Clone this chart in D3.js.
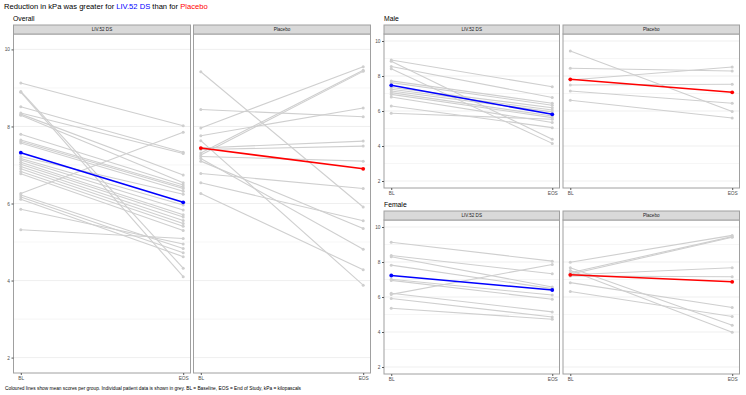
<!DOCTYPE html>
<html><head><meta charset="utf-8">
<script src="https://cdn.jsdelivr.net/npm/d3@7"></script>
<style>
html,body{margin:0;padding:0;background:#fff;}
svg{display:block;font-family:"Liberation Sans",Arial,sans-serif;}
</style></head>
<body><svg id="c" width="746" height="395"></svg>
<script>
// ---------- DATA ----------
const timepoints = ["BL", "EOS"];
const groups = ["LIV.52 DS", "Placebo"];
const yMajorTicks = [2, 4, 6, 8, 10];
const yMinorTicks = [3, 5, 7, 9];

// Overall, LIV.52 DS (individual patients: baseline / end of study)
const overallLivBL  = [9.13, 8.91, 8.89, 8.51, 8.35, 8.32, 8.29, 7.80, 7.65, 7.61, 7.57, 7.22, 7.17, 7.13, 7.07, 7.02, 6.96, 6.90, 6.83, 6.77, 6.26, 6.22, 6.17, 6.11, 5.85, 5.32];
const overallLivEOS = [8.02, 4.32, 4.10, 7.33, 7.30, 6.74, 6.54, 6.48, 6.43, 6.39, 6.32, 6.24, 5.96, 5.83, 5.71, 5.65, 5.56, 5.48, 5.41, 5.30, 7.85, 4.83, 4.72, 4.62, 4.95, 5.09];
const overallLivMean = [7.32, 6.03];
// Overall, Placebo
const overallPlaBL  = [9.42, 8.44, 7.96, 7.76, 7.63, 7.44, 7.40, 7.31, 7.26, 7.22, 7.17, 7.10, 6.78, 6.54, 6.26];
const overallPlaEOS = [5.91, 8.25, 9.55, 8.48, 3.88, 7.62, 7.49, 9.46, 9.43, 7.10, 4.81, 5.35, 6.39, 5.55, 4.28];
const overallPlaMean = [7.44, 6.90];

// Male
const maleLivBL  = [8.91, 8.84, 8.54, 8.42, 7.72, 7.62, 7.34, 7.24, 7.14, 7.05, 6.95, 6.80, 6.29, 5.87];
const maleLivEOS = [7.39, 4.38, 6.77, 4.15, 6.44, 6.33, 6.19, 6.06, 5.95, 5.71, 5.62, 5.34, 5.05, 5.53];
const maleLivMean = [7.47, 5.81];
const malePlaBL  = [9.43, 8.44, 7.77, 7.49, 7.14, 6.61];
const malePlaEOS = [5.97, 8.29, 8.51, 7.53, 6.44, 5.60];
const malePlaMean = [7.81, 7.07];

// Female
const femaleLivBL  = [9.13, 8.37, 8.30, 7.82, 7.01, 6.95, 6.15, 6.21, 5.91, 5.36];
const femaleLivEOS = [8.05, 7.33, 6.57, 6.48, 6.11, 5.87, 7.86, 5.15, 4.86, 4.73];
const femaleLivMean = [7.23, 6.40];
const femalePlaBL  = [7.99, 7.39, 7.30, 7.27, 7.20, 7.67, 7.52, 6.82, 6.31];
const femalePlaEOS = [9.52, 9.45, 9.41, 7.67, 7.16, 4.39, 3.98, 5.40, 4.89];
const femalePlaMean = [7.27, 6.87];

// ---------- DRAWING ----------
const svg = d3.select("#c");
const groupColors = {"LIV.52 DS": "#0000ff", "Placebo": "#ff0000"};
const yDomain = [1.6, 10.4];

function pairs(bl, eos) { return bl.map((b, i) => [b, eos[i]]); }

function drawPanel(cfg) {
  const {x0, x1, stripTop, bodyTop, bodyBottom, label, bl, eos, mean, showY} = cfg;
  const g = svg.append("g");
  const x = d3.scalePoint().domain(timepoints).range([x0, x1]).padding(0.045);
  const y = d3.scaleLinear().domain(yDomain).range([bodyBottom, bodyTop]);

  // grid
  g.selectAll(".minor").data(yMinorTicks).join("line")
    .attr("x1", x0).attr("x2", x1).attr("y1", d => y(d)).attr("y2", d => y(d))
    .attr("stroke", "#f0f0f0").attr("stroke-width", 0.6);
  g.selectAll(".major").data(yMajorTicks).join("line")
    .attr("x1", x0).attr("x2", x1).attr("y1", d => y(d)).attr("y2", d => y(d))
    .attr("stroke", "#ebebeb").attr("stroke-width", 0.8);

  // individual lines
  const line = d3.line().x((d, i) => x(timepoints[i])).y(d => y(d));
  const pp = pairs(bl, eos);
  g.selectAll(".ind").data(pp).join("path")
    .attr("d", d => line(d)).attr("fill", "none")
    .attr("stroke", "#cfcfcf").attr("stroke-width", 1.1);
  pp.forEach(p => {
    g.selectAll(null).data(p).join("circle")
      .attr("cx", (d, i) => x(timepoints[i])).attr("cy", d => y(d))
      .attr("r", 1.5).attr("fill", "#cfcfcf");
  });
  // mean
  const col = groupColors[label];
  g.append("path").attr("d", line(mean)).attr("fill", "none")
    .attr("stroke", col).attr("stroke-width", 1.6);
  g.selectAll(".mp").data(mean).join("circle")
    .attr("cx", (d, i) => x(timepoints[i])).attr("cy", d => y(d))
    .attr("r", 1.9).attr("fill", col);

  // border
  g.append("rect").attr("x", x0).attr("y", bodyTop).attr("width", x1 - x0).attr("height", bodyBottom - bodyTop)
    .attr("fill", "none").attr("stroke", "#a0a0a0").attr("stroke-width", 1);
  // strip
  g.append("rect").attr("x", x0).attr("y", stripTop).attr("width", x1 - x0).attr("height", bodyTop - stripTop)
    .attr("fill", "#d9d9d9").attr("stroke", "#a0a0a0").attr("stroke-width", 1);
  g.append("text").attr("x", (x0 + x1) / 2).attr("y", (stripTop + bodyTop) / 2 + 1.6)
    .attr("text-anchor", "middle").attr("font-size", 4.6).attr("fill", "#1a1a1a").text(label);

  // x axis
  const xa = g.append("g").attr("transform", `translate(0,${bodyBottom})`)
    .call(d3.axisBottom(x).tickSize(2).tickPadding(2));
  xa.select(".domain").remove();
  xa.selectAll("line").attr("stroke", "#555");
  xa.selectAll("text").attr("font-size", 4.8).attr("fill", "#4d4d4d").attr("font-family", "Liberation Sans, Arial, sans-serif");

  if (showY) {
    const ya = g.append("g").attr("transform", `translate(${x0},0)`)
      .call(d3.axisLeft(y).tickValues(yMajorTicks).tickSize(2).tickPadding(1.5));
    ya.select(".domain").remove();
    ya.selectAll("line").attr("stroke", "#555");
    ya.selectAll("text").attr("font-size", 4.8).attr("fill", "#4d4d4d").attr("font-family", "Liberation Sans, Arial, sans-serif");
  }
}

// title
const t = svg.append("text").attr("x", 4).attr("y", 9).attr("font-size", 7.6).attr("fill", "#000");
t.append("tspan").text("Reduction in kPa was greater for ");
t.append("tspan").attr("fill", "#0000ff").text("LIV.52 DS");
t.append("tspan").text(" than for ");
t.append("tspan").attr("fill", "#ff0000").text("Placebo");

// block titles
svg.append("text").attr("x", 13).attr("y", 21).attr("font-size", 6.8).text("Overall");
svg.append("text").attr("x", 384).attr("y", 21).attr("font-size", 6.8).text("Male");
svg.append("text").attr("x", 384).attr("y", 207).attr("font-size", 6.8).text("Female");

// Overall
drawPanel({x0: 13.5, x1: 190.5, stripTop: 25, bodyTop: 34, bodyBottom: 373, label: groups[0], bl: overallLivBL, eos: overallLivEOS, mean: overallLivMean, showY: true});
drawPanel({x0: 193.5, x1: 370.5, stripTop: 25, bodyTop: 34, bodyBottom: 373, label: groups[1], bl: overallPlaBL, eos: overallPlaEOS, mean: overallPlaMean, showY: false});
// Male
drawPanel({x0: 384, x1: 559.5, stripTop: 25, bodyTop: 34, bodyBottom: 188, label: groups[0], bl: maleLivBL, eos: maleLivEOS, mean: maleLivMean, showY: true});
drawPanel({x0: 563, x1: 739.5, stripTop: 25, bodyTop: 34, bodyBottom: 188, label: groups[1], bl: malePlaBL, eos: malePlaEOS, mean: malePlaMean, showY: false});
// Female
drawPanel({x0: 384, x1: 559.5, stripTop: 211, bodyTop: 220, bodyBottom: 374, label: groups[0], bl: femaleLivBL, eos: femaleLivEOS, mean: femaleLivMean, showY: true});
drawPanel({x0: 563, x1: 739.5, stripTop: 211, bodyTop: 220, bodyBottom: 374, label: groups[1], bl: femalePlaBL, eos: femalePlaEOS, mean: femalePlaMean, showY: false});

// caption
svg.append("text").attr("x", 5).attr("y", 390).attr("font-size", 4.8).attr("fill", "#000")
  .text("Coloured lines show mean scores per group. Individual patient data is shown in grey. BL = Baseline, EOS = End of Study, kPa = kilopascals");
</script></body></html>
